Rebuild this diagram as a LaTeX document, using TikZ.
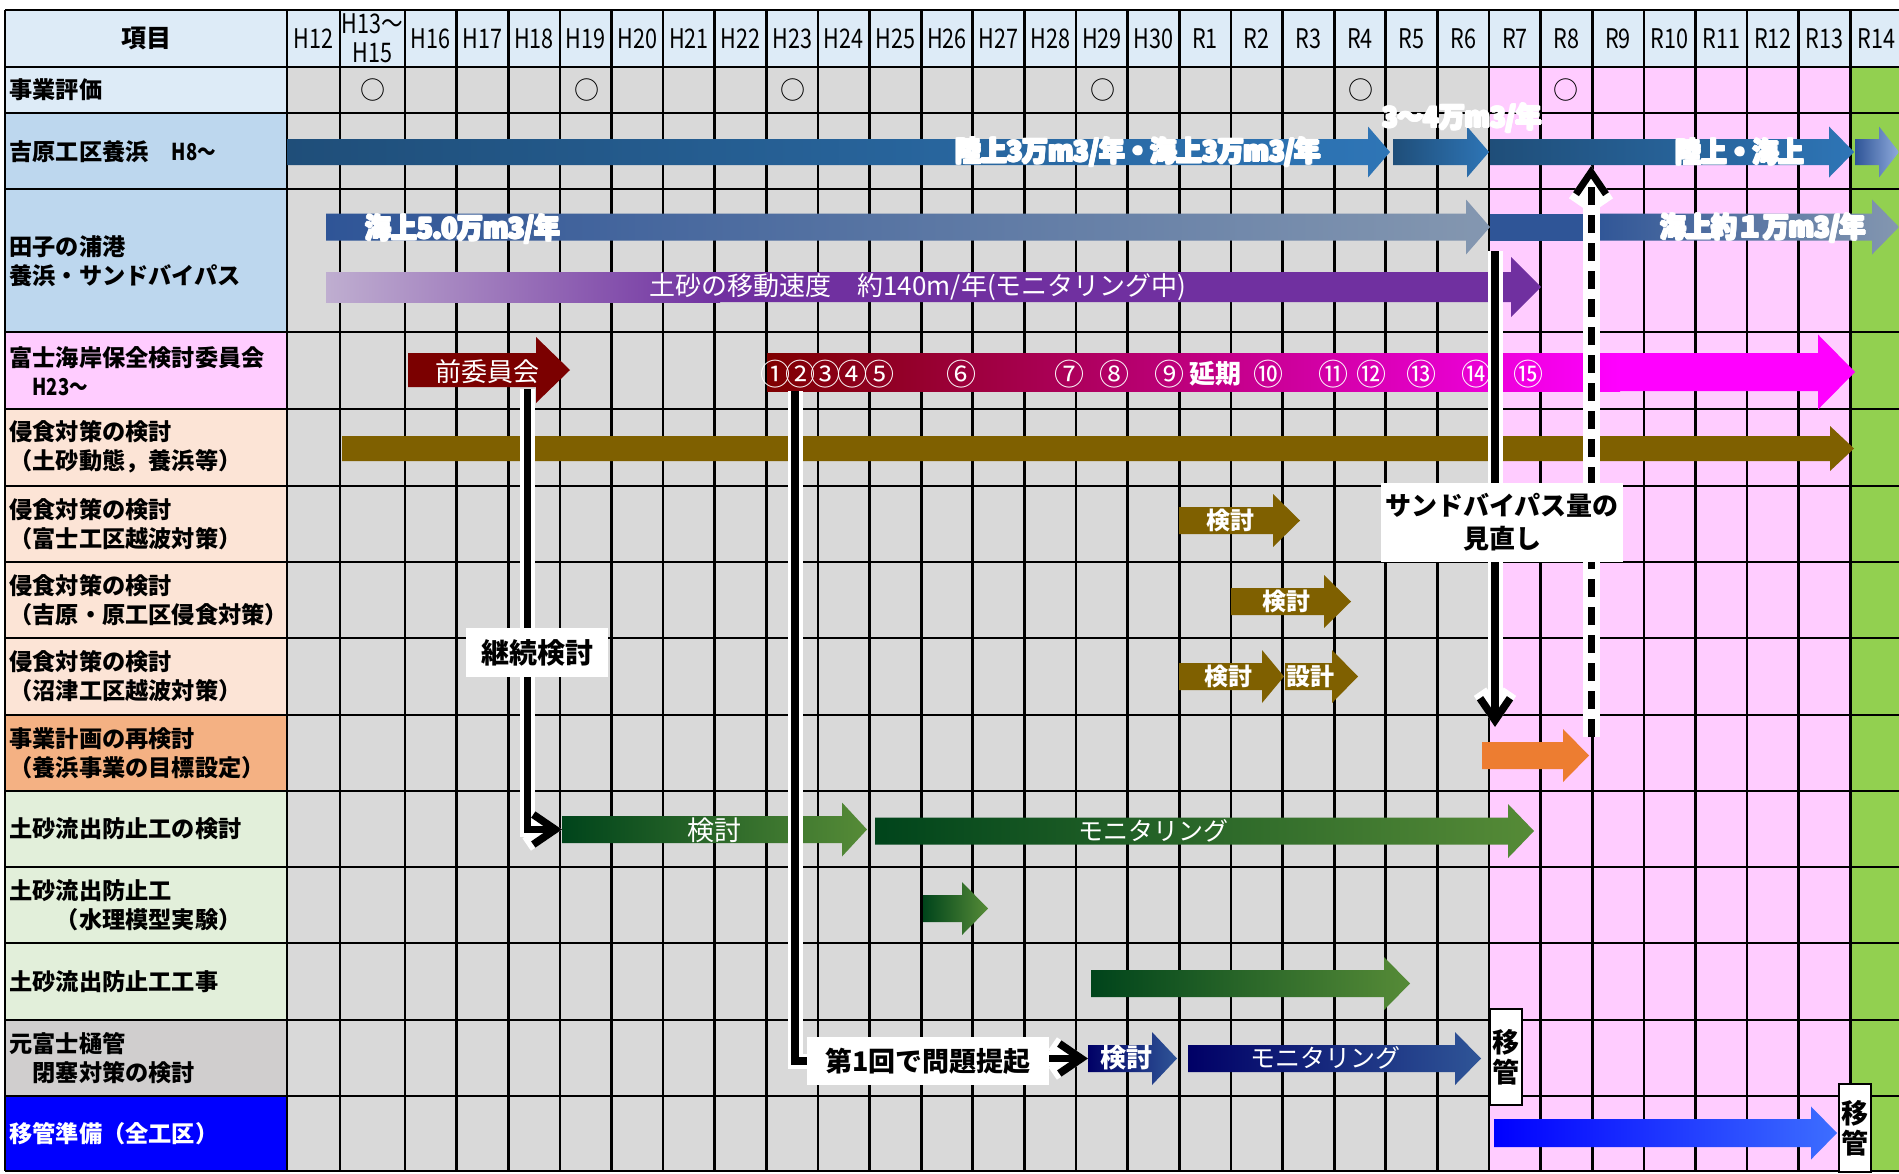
\documentclass[tikz,border=0pt]{standalone}
\usepackage{fontspec}
\setmainfont{Noto Sans CJK JP}
\newfontfamily\nar[FakeStretch=0.8]{Noto Sans CJK JP}
\newfontfamily\olf[FakeStretch=0.92]{Noto Sans CJK JP}
\usetikzlibrary{arrows.meta}
\definecolor{hdr}{HTML}{DDEBF7}
\definecolor{lbtwo}{HTML}{BDD7EE}
\definecolor{cgray}{HTML}{D9D9D9}
\definecolor{cpink}{HTML}{FFCCFF}
\definecolor{cgreen}{HTML}{92D050}
\definecolor{peach}{HTML}{FCE4D6}
\definecolor{lorange}{HTML}{F4B183}
\definecolor{lgreen}{HTML}{E2EFDA}
\definecolor{lgray}{HTML}{D0CECE}
\definecolor{dkblue}{HTML}{1F4E79}
\definecolor{mblue}{HTML}{2E75B6}
\definecolor{sblue}{HTML}{2F5597}
\definecolor{gblue}{HTML}{8497B0}
\definecolor{lgblue}{HTML}{8FAADC}
\definecolor{purp}{HTML}{7030A0}
\definecolor{lpur}{HTML}{BFAED0}
\definecolor{maroon}{HTML}{7B0000}
\definecolor{dred}{HTML}{7F0000}
\definecolor{magen}{HTML}{FF00FF}
\definecolor{brown}{HTML}{7F6000}
\definecolor{orng}{HTML}{ED7D31}
\definecolor{dgreen}{HTML}{00441B}
\definecolor{mgreen}{HTML}{568B37}
\definecolor{navy}{HTML}{000066}
\definecolor{pblue}{HTML}{0000FF}
\definecolor{lblue}{HTML}{3D6EFF}
\newsavebox\olbox
\newcommand\olt[1]{\sbox\olbox{#1}%
  \rlap{\color{black}\kern-.6pt\usebox\olbox}%
  \rlap{\color{black}\kern.6pt\usebox\olbox}%
  \rlap{\color{black}\raisebox{.6pt}{\usebox\olbox}}%
  \rlap{\color{black}\raisebox{-.6pt}{\usebox\olbox}}%
  \rlap{\color{black}\kern-.45pt\raisebox{.45pt}{\usebox\olbox}}%
  \rlap{\color{black}\kern.45pt\raisebox{.45pt}{\usebox\olbox}}%
  \rlap{\color{black}\kern-.45pt\raisebox{-.45pt}{\usebox\olbox}}%
  \rlap{\color{black}\kern.45pt\raisebox{-.45pt}{\usebox\olbox}}%
  \usebox\olbox}
% name, x1, x2, yc, bar half height, head half height, head length, left color, right color
\newcommand\barr[9]{%
  \shade[left color=#8,right color=#9] (#2,#4-#5) -- (#3-#7,#4-#5) -- (#3-#7,#4-#6) -- (#3,#4) -- (#3-#7,#4+#6) -- (#3-#7,#4+#5) -- (#2,#4+#5) -- cycle;
  \coordinate (#1s) at (#2,#4);
  \coordinate (#1e) at (#3,#4);}
\begin{document}
\begin{tikzpicture}[x=0.5pt,y=-0.5pt,
  grid/.style={line width=1.35pt,black},
  rowlab/.style={anchor=west,align=left,inner sep=0pt,font=\fontsize{11.6}{14.5}\selectfont\bfseries},
  yr/.style={inner sep=0pt,align=center,font=\nar\fontsize{13.5}{14.5}\selectfont},
  mk/.style={inner sep=0pt,font=\fontsize{12.5}{12.5}\selectfont},
  olab/.style={inner sep=0pt,text=white,font=\olf\fontsize{14}{14}\selectfont\bfseries},
  wlab/.style={inner sep=0pt,text=white,font=\fontsize{13}{13}\selectfont},
  blab/.style={inner sep=0pt,text=white,font=\fontsize{12}{12}\selectfont\bfseries},
  num/.style={inner sep=0pt,text=white,font=\fontsize{15}{15}\selectfont},
  halo/.style={white,line width=7.5pt},
  conn/.style={black,line width=3.8pt},
  tipb/.style={-{Straight Barb[length=11pt,width=15pt]}},
  wbox/.style={fill=white,inner sep=0pt,align=center,text=black,font=\fontsize{14}{17}\selectfont\bfseries},
  ikan/.style={fill=white,draw=black,line width=1pt,inner sep=0pt,minimum width=16pt,align=center,font=\fontsize{13.5}{15}\selectfont\bfseries}]
\useasboundingbox (0,0) rectangle (1899,1173);
\fill[white] (0,0) rectangle (1899,1173);
% cell fills
\fill[hdr] (5,10) rectangle (1899,67);
\fill[cgray] (287,67) rectangle (1489,1171);
\fill[cpink] (1489,67) rectangle (1850.4,1171);
\fill[cgreen] (1850.4,67) rectangle (1899,1171);
\fill[hdr] (5,67) rectangle (287,113);
\fill[lbtwo] (5,113) rectangle (287,332);
\fill[cpink] (5,332) rectangle (287,409);
\fill[peach] (5,409) rectangle (287,715);
\fill[lorange] (5,715) rectangle (287,791);
\fill[lgreen] (5,791) rectangle (287,1020);
\fill[lgray] (5,1020) rectangle (287,1096);
\fill[pblue] (5,1096) rectangle (287,1171);
% grid
\foreach \y in {10,67,113,189,332,409,486,562,638,715,791,867,943,1020,1096,1171}
  \draw[grid] (5,\y) -- (1899,\y);
\foreach \x in {5,287,340} \draw[grid] (\x,10) -- (\x,1171);
\foreach \i in {0,...,28} \draw[grid] ({405+\i*51.62},10) -- ({405+\i*51.62},1171);
% header
\node[inner sep=0pt,font=\fontsize{12.5}{12.5}\selectfont\bfseries] (hitem) at (146,38.5) {項目};
\node[yr] (hH12) at (313.5,38.5) {H12};
\node[yr] (hH13) at (372.5,38.5) {H13～\\H15};
\foreach \t [count=\i from 0] in {H16,H17,H18,H19,H20,H21,H22,H23,H24,H25,H26,H27,H28,H29,H30,R1,R2,R3,R4,R5,R6,R7,R8,R9,R10,R11,R12,R13,R14}
  \node[yr] (h\t) at ({405+(\i+0.5)*51.62},38.5) {\t};
% row labels
\node[rowlab] (r1) at (9,90) {事業評価};
\node[rowlab] (r2) at (9,152) {吉原工区養浜　{\nar H8～}};
\node[rowlab] (r3) at (9,261) {田子の浦港\\養浜・サンドバイパス};
\node[rowlab] (r4) at (9,371) {富士海岸保全検討委員会\\　{\nar H23～}};
\node[rowlab] (r5) at (9,447) {侵食対策の検討\\（土砂動態，養浜等）};
\node[rowlab] (r6) at (9,524) {侵食対策の検討\\（富士工区越波対策）};
\node[rowlab] (r7) at (9,600) {侵食対策の検討\\（吉原・原工区侵食対策）};
\node[rowlab] (r8) at (9,676.5) {侵食対策の検討\\（沼津工区越波対策）};
\node[rowlab] (r9) at (9,753) {事業計画の再検討\\（養浜事業の目標設定）};
\node[rowlab] (r10) at (9,829) {土砂流出防止工の検討};
\node[rowlab] (r11) at (9,905) {土砂流出防止工\\　　（水理模型実験）};
\node[rowlab] (r12) at (9,981.5) {土砂流出防止工工事};
\node[rowlab] (r13) at (9,1058) {元富士樋管\\　閉塞対策の検討};
\node[rowlab,text=white] (r14) at (9,1133.5) {移管準備（全工区）};
% evaluation marks
\foreach \x [count=\i] in {372.5,586.7,793,1103,1360.5,1566}
  \node[mk] (ev\i) at (\x,90) {○};
% bars: Yoshiwara
\barr{ya}{287}{1390}{152}{13}{25.5}{22}{dkblue}{mblue}
\barr{yb}{1393}{1489}{152}{13}{25.5}{22}{dkblue}{mblue}
\barr{yc}{1490}{1854}{152}{13}{25.5}{25}{dkblue}{mblue}
\barr{yd}{1855}{1899}{152}{13}{25.5}{20}{sblue}{lgblue}
% Tagonoura
\barr{ta}{326}{1490}{227}{13.5}{27.5}{24}{sblue}{gblue}
\fill[sblue] (1490,213.5) rectangle (1592,240.5);
\barr{tc}{1592}{1899}{227}{13.5}{27.5}{27}{sblue}{gblue}
\barr{tp}{326}{1541}{287}{15}{30}{30}{purp}{purp}
\shade[left color=lpur,right color=purp] (326,272) rectangle (720,302);
% committee
\barr{za}{408}{570}{370}{17}{33}{34}{maroon}{maroon}
\barr{zb}{767}{1855}{372}{19}{37.5}{37}{magen}{magen}
\shade[left color=dred,right color=magen] (767,353) rectangle (1620,391);
% erosion
\barr{sa}{342}{1854}{448.5}{12.5}{22.5}{24}{brown}{brown}
\barr{sb}{1179}{1300}{520.5}{13.5}{26.5}{27}{brown}{brown}
\barr{sc}{1231}{1351}{601.5}{13.5}{26.5}{27}{brown}{brown}
\barr{sd}{1179}{1284}{676.5}{13.5}{26.5}{22}{brown}{brown}
\barr{se}{1285}{1358}{676.5}{13.5}{26.5}{26}{brown}{brown}
% plan review
\barr{ja}{1482}{1589}{755.5}{13.5}{26.5}{26}{orng}{orng}
% sediment
\barr{da}{562}{867}{829.5}{13.5}{27}{25}{dgreen}{mgreen}
\barr{db}{875}{1534}{831}{13.5}{27}{26}{dgreen}{mgreen}
\barr{dc}{923}{988}{908.5}{13.5}{26.5}{26}{dgreen}{mgreen}
\barr{dd}{1091}{1410}{983.5}{13.5}{26.5}{26}{dgreen}{mgreen}
% Motofuji
\barr{ma}{1088}{1177}{1058.5}{13.5}{26.5}{25}{navy}{sblue}
\barr{mb}{1188}{1481}{1058.5}{13.5}{26.5}{26}{navy}{sblue}
% transfer
\barr{ia}{1494}{1837}{1133}{14}{26.5}{26}{pblue}{lblue}
% bar labels
\node[olab] (l1) at (1138,152) {\olt{陸上3万m3/年・海上3万m3/年}};
\node[olab] (l2) at (1462,118) {\olt{3～4万m3/年}};
\node[olab] (l3) at (1740,152) {\olt{陸上・海上}};
\node[olab] (l4) at (463,229) {\olt{海上5.0万m3/年}};
\node[olab] (l5) at (1763,228) {\olt{海上約１万m3/年}};
\node[wlab] (l6) at (918,287) {土砂の移動速度　約140m/年(モニタリング中)};
\node[wlab] (l7) at (487,372) {前委員会};
\foreach \n/\x in {①/775,②/800,③/825,④/852,⑤/879,⑥/961,⑦/1069,⑧/1114,⑨/1169,⑩/1268,⑪/1333,⑫/1371,⑬/1421,⑭/1476,⑮/1528}
  \node[num] (n\x) at (\x,374) {\n};
\node[num,font=\fontsize{13}{13}\selectfont\bfseries] (l8) at (1215,374) {延期};
\node[blab] (k1) at (1230,520.5) {検討};
\node[blab] (k2) at (1286,601.5) {検討};
\node[blab] (k3) at (1228,676.5) {検討};
\node[blab] (k4) at (1310,676.5) {設計};
\node[wlab,font=\fontsize{13.5}{13.5}\selectfont] (k5) at (714,830) {検討};
\node[wlab,font=\fontsize{12.5}{12.5}\selectfont] (k6) at (1153,831) {モニタリング};
\node[wlab,font=\fontsize{13}{13}\selectfont\bfseries] (k7) at (1126,1058) {検討};
\node[wlab,font=\fontsize{12.5}{12.5}\selectfont] (k8) at (1325,1058) {モニタリング};
% connectors
\coordinate (c1top) at (527.5,389);
\coordinate (c2top) at (795,391);
\coordinate (sbtop) at (1495,251);
\coordinate (sbtip) at (1495,727);
\coordinate (dbot) at (1591,737);
\coordinate (dtop) at (1591,166);
\node[wbox,minimum width=121pt,minimum height=24pt,font=\fontsize{13.5}{13.5}\selectfont\bfseries] (dai1) at (928,1061) {第1回で問題提起};
\draw[halo,tipb] (c1top) |- (das);
\draw[conn,tipb] (c1top) |- (das);
\draw[halo] (c2top) |- (dai1.west);
\draw[conn] (c2top) |- (dai1.west);
\draw[halo,tipb] (dai1.east |- mas) -- (mas);
\draw[conn,tipb] (dai1.east |- mas) -- (mas);
\draw[halo,tipb] (sbtop) -- (sbtip);
\draw[conn,tipb] (sbtop) -- (sbtip);
\draw[halo,line width=8.5pt,tipb] (dbot) -- (dtop);
\draw[conn,line width=3.5pt,dash pattern=on 9pt off 5pt,tipb] (dbot) -- (dtop);
% boxes
\node[wbox,minimum width=121pt,minimum height=39.5pt,font=\fontsize{13}{16.5}\selectfont\bfseries] (sbbox) at (1502,522.5) {サンドバイパス量の\\見直し};
\node[wbox,minimum width=70.75pt,minimum height=24.5pt] (keizoku) at (537,652.5) {継続検討};
\node[ikan,minimum height=48pt] (ik1) at (1506,1057) {移\\管};
\node[ikan,minimum height=44pt] (ik2) at (1855,1128) {移\\管};
\end{tikzpicture}
\end{document}
